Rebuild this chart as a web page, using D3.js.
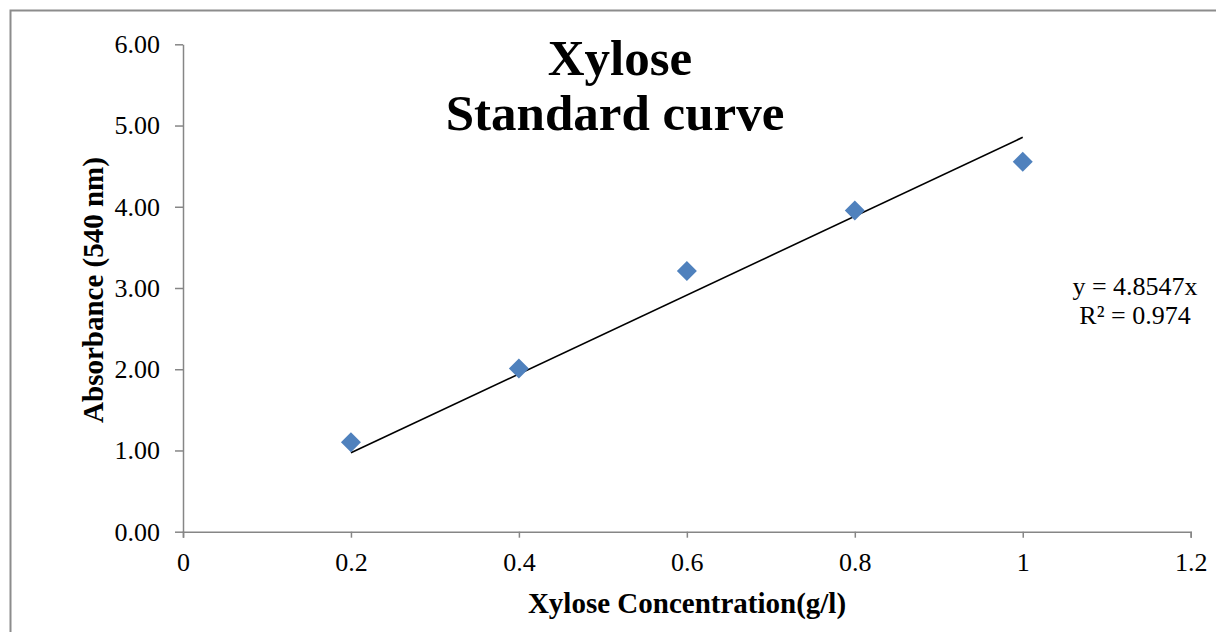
<!DOCTYPE html>
<html>
  <head>
    <meta charset="utf-8">
    <title>Xylose standard curve</title>
    <script src="https://d3js.org/d3.v7.min.js"></script>
  </head>
  <style>
    body { margin: 0; background: #fff; }
    svg text { font-family: "Liberation Serif", "Times New Roman", serif; fill: #000; }
    .axis path, .axis line { stroke: #868686; stroke-width: 1.5px; }
  </style>
  <body>
    <script>
      const width = 1216;
      const height = 632;

      // data
      const concentrations = [0.2, 0.4, 0.6, 0.8, 1.0];
      const absorbances = [1.10, 2.01, 3.21, 3.955, 4.555];
      const xTicks = [0, 0.2, 0.4, 0.6, 0.8, 1, 1.2];
      const xTickLabels = ["0", "0.2", "0.4", "0.6", "0.8", "1", "1.2"];
      const yTicks = [0, 1, 2, 3, 4, 5, 6];
      const yTickLabels = ["0.00", "1.00", "2.00", "3.00", "4.00", "5.00", "6.00"];
      const slope = 4.8547;
      const equationLines = ["y = 4.8547x", "R\u00b2 = 0.974"];

      const points = concentrations.map(function(c, i) { return {x: c, y: absorbances[i]}; });

      const xScale = d3.scaleLinear().domain([0, 1.2]).range([183, 1190.7]);
      const yScale = d3.scaleLinear().domain([0, 6]).range([531.7, 44.3]);

      const svg = d3.select("body")
        .append("svg")
          .attr("width", width)
          .attr("height", height);

      // outer chart border (runs off right/bottom edge)
      svg.append("rect")
          .attr("x", 10.5)
          .attr("y", 10.5)
          .attr("width", width + 20)
          .attr("height", height + 20)
          .attr("fill", "none")
          .attr("stroke", "#8c8c8c")
          .attr("stroke-width", 2);

      // x axis
      const xAxis = d3.axisBottom(xScale)
        .tickValues(xTicks)
        .tickFormat(function(d, i) { return xTickLabels[i]; })
        .tickSizeInner(6)
        .tickSizeOuter(6)
        .tickPadding(15);

      svg.append("g")
          .attr("class", "axis x-axis")
          .attr("transform", "translate(0," + yScale(0) + ")")
          .call(xAxis)
        .selectAll("text")
          .style("font-size", "26px")
          .style("font-family", "Liberation Serif");

      // y axis
      const yAxis = d3.axisLeft(yScale)
        .tickValues(yTicks)
        .tickFormat(function(d, i) { return yTickLabels[i]; })
        .tickSizeInner(8)
        .tickSizeOuter(0)
        .tickPadding(15);

      svg.append("g")
          .attr("class", "axis y-axis")
          .attr("transform", "translate(" + xScale(0) + ",0)")
          .call(yAxis)
        .selectAll("text")
          .style("font-size", "26px")
          .style("font-family", "Liberation Serif");

      svg.selectAll(".axis .domain").attr("stroke", "#868686");

      // linear trendline through origin
      const xMin = d3.min(concentrations);
      const xMax = d3.max(concentrations);
      svg.append("line")
          .attr("x1", xScale(xMin))
          .attr("y1", yScale(slope * xMin))
          .attr("x2", xScale(xMax))
          .attr("y2", yScale(slope * xMax))
          .attr("stroke", "#000")
          .attr("stroke-width", 1.6);

      // diamond markers
      const diamond = d3.symbol().type(d3.symbolSquare).size(200);
      svg.append("g")
        .selectAll("path")
        .data(points)
        .enter()
        .append("path")
          .attr("d", diamond)
          .attr("transform", function(d) {
            return "translate(" + xScale(d.x) + "," + yScale(d.y) + ") rotate(45)";
          })
          .attr("fill", "#4f81bd");

      // title
      const title = svg.append("text")
          .attr("text-anchor", "middle")
          .style("font-size", "51px")
          .style("font-weight", "bold");
      title.append("tspan").attr("x", 620).attr("y", 75).text("Xylose");
      title.append("tspan").attr("x", 615).attr("y", 130).text("Standard curve");

      // axis titles
      svg.append("text")
          .attr("x", 687)
          .attr("y", 613)
          .attr("text-anchor", "middle")
          .style("font-size", "29px")
          .style("font-weight", "bold")
          .text("Xylose Concentration(g/l)");

      svg.append("text")
          .attr("transform", "translate(103,290) rotate(-90)")
          .attr("text-anchor", "middle")
          .style("font-size", "29px")
          .style("font-weight", "bold")
          .text("Absorbance (540 nm)");

      // trendline equation
      svg.append("g")
        .selectAll("text")
        .data(equationLines)
        .enter()
        .append("text")
          .attr("x", 1135)
          .attr("y", function(d, i) { return 295 + i * 29; })
          .attr("text-anchor", "middle")
          .style("font-size", "26px")
          .text(function(d) { return d; });
    </script>
  </body>
</html>
